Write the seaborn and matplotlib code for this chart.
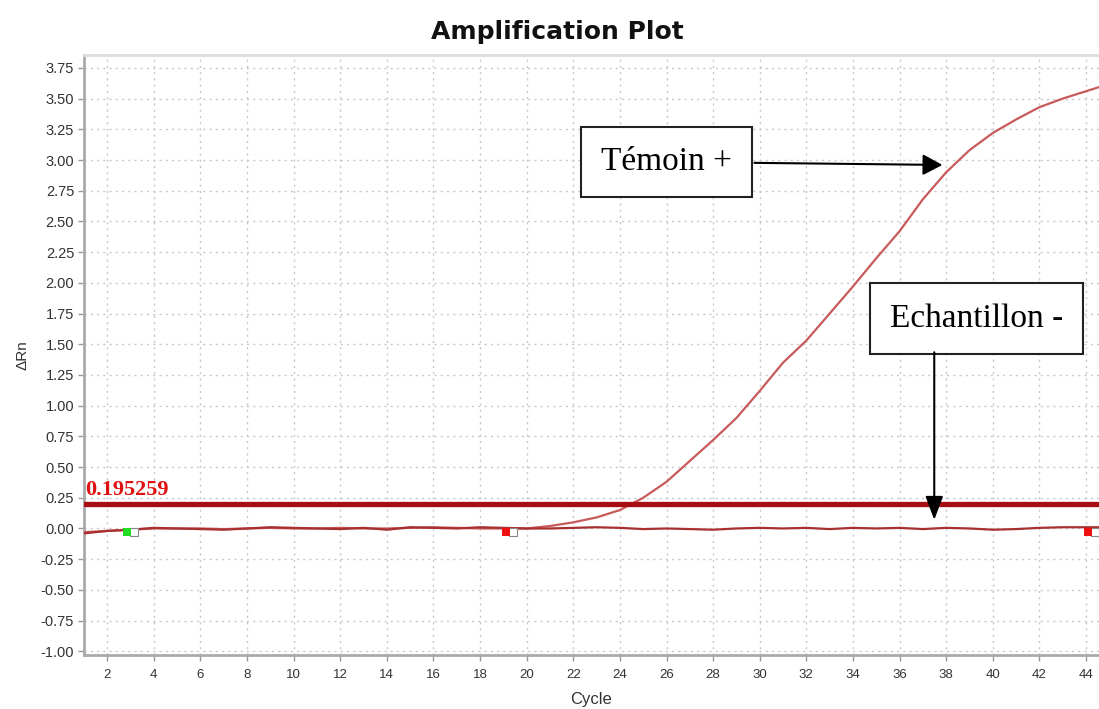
import matplotlib
matplotlib.use("Agg")
import matplotlib.pyplot as plt
import numpy as np
import pandas as pd
import seaborn as sns

# Cycle numbers and normalized reporter signal (ΔRn) per well
cycles = list(range(1, 46))
temoin_pos = [-0.03, -0.02, -0.01, 0.00, 0.00, 0.00, -0.005, 0.00, 0.005, 0.00,
              0.00, 0.005, 0.00, 0.00, 0.005, 0.01, 0.005, 0.00, 0.00, 0.00,
              0.02, 0.05, 0.09, 0.15, 0.25, 0.38, 0.55, 0.72, 0.90, 1.12,
              1.35, 1.53, 1.75, 1.97, 2.20, 2.42, 2.68, 2.90, 3.08, 3.22,
              3.33, 3.43, 3.50, 3.56, 3.62]
echantillon_neg = [-0.04, -0.02, -0.01, 0.005, 0.00, -0.005, -0.01, 0.00, 0.01, 0.005,
                   0.00, -0.005, 0.005, -0.01, 0.01, 0.005, 0.00, 0.01, 0.005, 0.00,
                   0.00, 0.005, 0.01, 0.005, -0.005, 0.00, -0.005, -0.01, 0.00, 0.005,
                   0.00, 0.005, -0.005, 0.005, 0.00, 0.005, -0.005, 0.005, 0.00, -0.01,
                   -0.005, 0.005, 0.01, 0.01, 0.01]
threshold = 0.195259

# Baseline start / end markers (cycle, ΔRn, colour)
baseline_cycles = [2.85, 19.1, 44.1]
baseline_values = [-0.03, -0.03, -0.03]
baseline_colors = ["#22dd22", "#ee1111", "#ee1111"]

x_ticks = list(range(2, 45, 2))
y_ticks = [v / 100 for v in range(-100, 376, 25)]

df = pd.DataFrame({
    "Cycle": cycles * 2,
    "dRn": temoin_pos + echantillon_neg,
    "well": ["Témoin +"] * len(cycles) + ["Echantillon -"] * len(cycles),
})

sns.set_theme(style="white")
plt.rcParams["font.family"] = ["Liberation Sans", "DejaVu Sans"]

fig = plt.figure(figsize=(10.99, 7.09), dpi=100)
ax = fig.add_axes([0.0764, 0.0762, 0.9236, 0.8462])

sns.lineplot(data=df, x="Cycle", y="dRn", hue="well",
             palette={"Témoin +": "#c85a5a", "Echantillon -": "#a83030"},
             linewidth=1.6, legend=False, ax=ax, zorder=3)

ax.axhline(threshold, color="#a80d12", linewidth=3.8, zorder=4)
ax.text(1.05, threshold + 0.035, f"{threshold:.6f}", color="#e01010",
        fontsize=16, fontweight="bold", family="Liberation Serif",
        ha="left", va="bottom", zorder=5)

# Baseline markers: a hollow square beside a filled one
for c, v, col in zip(baseline_cycles, baseline_values, baseline_colors):
    ax.scatter([c + 0.3], [v + 0.005], marker="s", s=28, facecolor="white",
               edgecolor="#888888", linewidth=0.8, zorder=6)
    ax.scatter([c], [v], marker="s", s=36, color=col, zorder=7, linewidth=0)

ax.set_xlim(1, 44.56)
ax.set_ylim(-1.03, 3.855)
ax.set_xticks(x_ticks)
ax.set_yticks(y_ticks)
ax.set_yticklabels([f"{v:.2f}" for v in y_ticks])
ax.tick_params(axis="both", which="major", length=4, width=1, color="#999999",
               direction="out", labelcolor="#333333", bottom=True, left=True)
ax.tick_params(axis="x", labelsize=9.5, pad=6)
ax.tick_params(axis="y", labelsize=10.5, pad=3)

ax.grid(True, color="#c8c8c8", linestyle=(0, (1.5, 3)), linewidth=1)
ax.set_axisbelow(True)
for side in ["left", "bottom"]:
    ax.spines[side].set_color("#aaaaaa")
    ax.spines[side].set_linewidth(2)
ax.spines["top"].set_color("#dddddd")
ax.spines["top"].set_linewidth(2)
ax.spines["right"].set_visible(False)

ax.set_xlabel("Cycle", fontsize=12, color="#333333", labelpad=8)
ax.set_ylabel("ΔRn", fontsize=11, color="#333333", labelpad=8)
fig.text(0.507, 0.955, "Amplification Plot", fontsize=18, fontweight="bold",
         family="DejaVu Sans", color="#111111", ha="center", va="center")

# Annotation boxes with arrows
box = dict(boxstyle="square,pad=0.6", facecolor="white", edgecolor="#222222",
           linewidth=1.5)

ax.text(26.0, 2.985, "Témoin +", fontsize=24, family="Liberation Serif",
        color="black", ha="center", va="center", bbox=box, zorder=8)
ax.annotate("", xy=(37.84, 2.96), xytext=(29.77, 2.977), zorder=8,
            arrowprops=dict(arrowstyle="-|>,head_length=0.6,head_width=0.32",
                            mutation_scale=20, color="black", lw=1.5,
                            shrinkA=0, shrinkB=0))

ax.text(39.3, 1.711, "Echantillon -", fontsize=24, family="Liberation Serif",
        color="black", ha="center", va="center", bbox=box, zorder=8)
ax.annotate("", xy=(37.49, 0.07), xytext=(37.49, 1.435), zorder=8,
            arrowprops=dict(arrowstyle="-|>,head_length=0.72,head_width=0.27",
                            mutation_scale=20, color="black", lw=1.5,
                            shrinkA=0, shrinkB=0))

fig.savefig("out.png", dpi=100)
